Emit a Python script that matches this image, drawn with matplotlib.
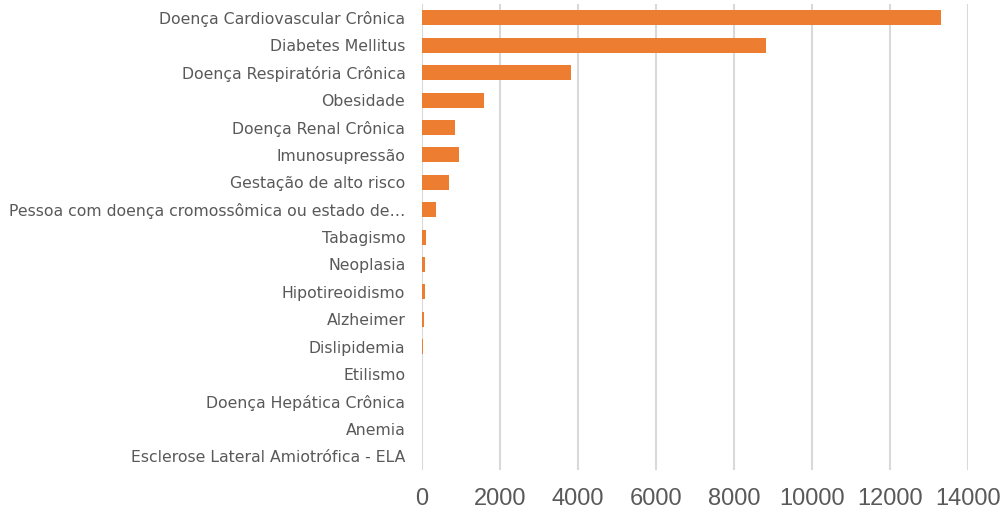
import matplotlib.pyplot as plt
import matplotlib.ticker as ticker

categories = [
    "Doença Cardiovascular Crônica",
    "Diabetes Mellitus",
    "Doença Respiratória Crônica",
    "Obesidade",
    "Doença Renal Crônica",
    "Imunosupressão",
    "Gestação de alto risco",
    "Pessoa com doença cromossômica ou estado de…",
    "Tabagismo",
    "Neoplasia",
    "Hipotireoidismo",
    "Alzheimer",
    "Dislipidemia",
    "Etilismo",
    "Doença Hepática Crônica",
    "Anemia",
    "Esclerose Lateral Amiotrófica - ELA",
]
values = [13310, 8810, 3815, 1600, 835, 950, 700, 350, 110, 78, 76, 50, 35, 8, 5, 3, 2]
x_ticks = [0, 2000, 4000, 6000, 8000, 10000, 12000, 14000]

fig = plt.figure(figsize=(10.03, 5.25), dpi=100)
ax = fig.add_axes([0.4207, 0.105, 0.5444, 0.887])

y = list(range(len(categories)))
ax.barh(y, values, height=0.55, color="#ED7D31", zorder=3)
ax.set_ylim(len(categories) - 0.5, -0.5)
ax.set_xlim(0, 14000)
ax.set_yticks(y)
ax.set_yticklabels(categories, fontsize=11.3, color="#595959")
ax.set_xticks(x_ticks)
ax.xaxis.set_major_formatter(ticker.FuncFormatter(lambda v, p: f"{int(v)}"))
for lbl in ax.get_xticklabels():
    lbl.set_fontsize(17)
    lbl.set_color("#595959")
    lbl.set_family(["Liberation Sans", "DejaVu Sans"])
ax.tick_params(axis="both", length=0)
ax.tick_params(axis="x", pad=13)
ax.tick_params(axis="y", pad=12)
ax.grid(axis="x", color="#D9D9D9", linewidth=1.5, zorder=0)
for s in ax.spines.values():
    s.set_visible(False)

fig.savefig("out.png", dpi=100)
